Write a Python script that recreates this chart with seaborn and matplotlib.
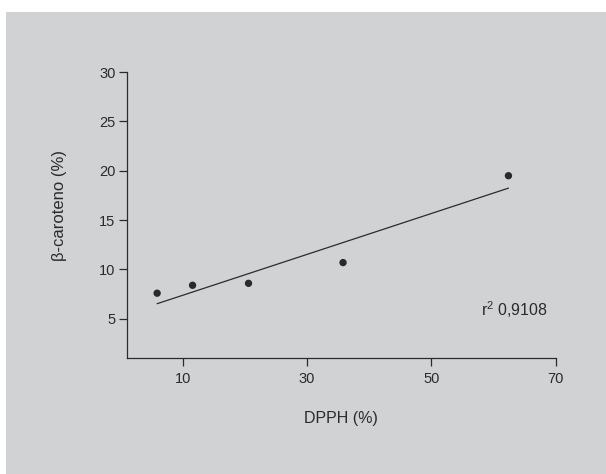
import numpy as np
import pandas as pd
import seaborn as sns
import matplotlib.pyplot as plt
from matplotlib.patches import Rectangle

# Data
dpph = [5.9, 11.6, 20.6, 35.8, 62.4]
caroteno = [7.6, 8.4, 8.6, 10.7, 19.5]
x_ticks = [10, 30, 50, 70]
y_ticks = [5, 10, 15, 20, 25, 30]
r2_label = "r$^2$ 0,9108"

df = pd.DataFrame({"DPPH": dpph, "caroteno": caroteno})

sns.set_theme(style="ticks")
plt.rcParams["font.family"] = ["Liberation Sans", "DejaVu Sans"]
plt.rcParams["mathtext.fontset"] = "custom"
plt.rcParams["mathtext.rm"] = "Liberation Sans"
plt.rcParams["mathtext.it"] = "Liberation Sans"

bg = "#d1d2d4"
ink = "#2b2b2b"

fig = plt.figure(figsize=(6.06, 4.74), dpi=100, facecolor="white")
fig.patches.append(Rectangle((6 / 606, 0), 1, 1 - 12 / 474,
                             transform=fig.transFigure, facecolor=bg,
                             edgecolor="none", zorder=-10))
ax = fig.add_axes([0.209, 0.244, 0.708, 0.604])
ax.set_facecolor("none")

sns.regplot(data=df, x="DPPH", y="caroteno", ci=None, ax=ax,
            color="black",
            scatter_kws={"s": 28, "edgecolor": "none", "zorder": 3},
            line_kws={"linewidth": 0.9, "color": ink})

ax.set_xlim(1, 70)
ax.set_ylim(1, 30)
ax.set_xticks(x_ticks)
ax.set_yticks(y_ticks)
ax.tick_params(direction="out", length=6, width=0.9, colors=ink,
               labelsize=10.5, labelcolor=ink)
ax.tick_params(axis="y", pad=2)
ax.tick_params(axis="x", pad=4)
for s in ["top", "right"]:
    ax.spines[s].set_visible(False)
for s in ["left", "bottom"]:
    ax.spines[s].set_color(ink)
    ax.spines[s].set_linewidth(0.9)

ax.set_xlabel("DPPH (%)", fontsize=11.5, color=ink, labelpad=18)
ax.set_ylabel("β-caroteno (%)", fontsize=12, color=ink)
ax.yaxis.set_label_coords(-0.14, 0.534)

ax.text(58.0, 5.3, r2_label, fontsize=11.5, color=ink,
        ha="left", va="baseline")

fig.savefig("out.png", dpi=100, facecolor="white")
